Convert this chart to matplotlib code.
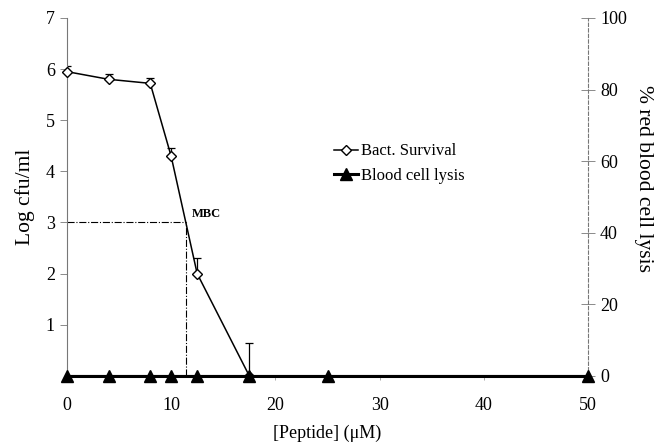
import matplotlib
matplotlib.use("Agg")
import matplotlib.pyplot as plt

plt.rcParams['font.family'] = ['Liberation Serif', 'DejaVu Serif']

# bacterial survival (log cfu/ml)
bact_x = [0, 4, 8, 10, 12.5, 17.5]
bact_y = [5.95, 5.8, 5.72, 4.3, 2.0, 0.0]
bact_err = [0.1, 0.1, 0.1, 0.15, 0.3, 0.65]

# red blood cell lysis (%)
lysis_x = [0, 4, 8, 10, 12.5, 17.5, 25, 50]
lysis_y = [0, 0, 0, 0, 0, 0, 0, 0]

mbc_x = 11.4
mbc_y = 3.0

fig = plt.figure(figsize=(6.55, 4.48), dpi=100)
ax = fig.add_axes([0.102, 0.161, 0.796, 0.799])
ax2 = ax.twinx()

ax.set_xlim(0, 50)
ax.set_ylim(0, 7)
ax2.set_ylim(0, 100)

# MBC guide lines
ax.plot([0, mbc_x], [mbc_y, mbc_y], color='black', lw=0.8, ls='-.')
ax.plot([mbc_x, mbc_x], [0, mbc_y], color='black', lw=0.8, ls='-.')
ax.text(12.0, 3.17, 'MBC', fontsize=9, fontweight='bold', va='center')

ax.errorbar(bact_x, bact_y, yerr=[[0]*len(bact_err), bact_err],
            fmt='none', ecolor='black', elinewidth=0.9, capsize=3, capthick=0.9)
l1, = ax.plot(bact_x, bact_y, color='black', lw=1.1, marker='D', markersize=5.5,
              markerfacecolor='white', markeredgecolor='black', markeredgewidth=1,
              clip_on=False, zorder=5, label='Bact. Survival')
l2, = ax2.plot(lysis_x, lysis_y, color='black', lw=2.2, marker='^', markersize=8,
               clip_on=False, zorder=6, label='Blood cell lysis')

ax.set_yticks([1, 2, 3, 4, 5, 6, 7])
ax.set_xticks([0, 10, 20, 30, 40, 50])
ax2.set_yticks([0, 20, 40, 60, 80, 100])

for a in (ax, ax2):
    a.spines['top'].set_visible(False)
    a.tick_params(labelsize=13, colors='black', width=0.6, length=4)
ax.spines['left'].set_color('#777777')
ax.spines['left'].set_linewidth(0.8)
ax.spines['right'].set_visible(False)
ax.spines['bottom'].set_linewidth(1.5)
ax2.spines['left'].set_visible(False)
ax2.spines['bottom'].set_visible(False)
ax2.spines['right'].set_color('#777777')
ax2.spines['right'].set_linestyle((0, (3, 2)))
ax2.spines['right'].set_linewidth(0.8)
ax.tick_params(axis='y', color='#777777', length=5)
ax2.tick_params(axis='y', direction='inout', color='#777777', length=10)
ax.tick_params(axis='x', color='#999999', length=3, pad=12)

ax.set_xlabel('[Peptide] (\u03bcM)', fontsize=13, labelpad=8)
ax.set_ylabel('Log cfu/ml', fontsize=15.5, labelpad=8)
ax2.set_ylabel('% red blood cell lysis', fontsize=15.5, rotation=270, labelpad=20)
ax2.yaxis.set_label_coords(1.125, 0.55)

ax.legend(handles=[l1, l2], loc='upper left', bbox_to_anchor=(0.5, 0.668),
          frameon=False, fontsize=12, handlelength=1.4, handletextpad=0.2,
          labelspacing=0.5, borderaxespad=0)

fig.savefig('out.png', dpi=100)
